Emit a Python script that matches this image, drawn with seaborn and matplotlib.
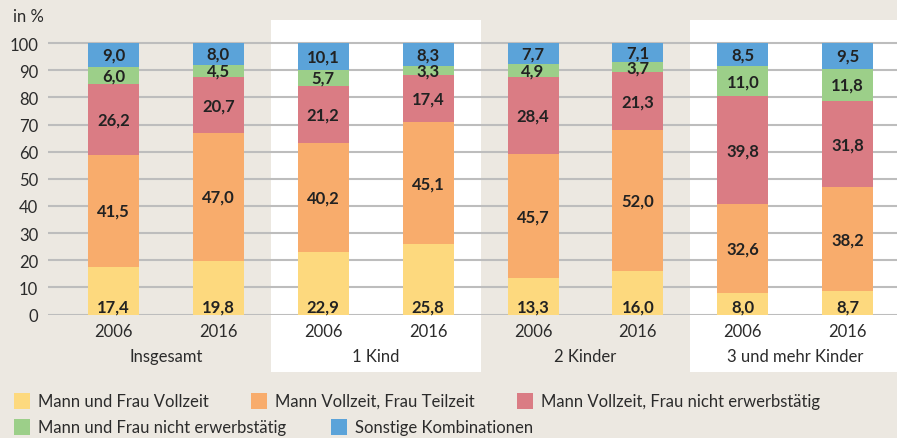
import numpy as np
import pandas as pd
import seaborn as sns
import matplotlib.pyplot as plt
from matplotlib.patches import Rectangle
import matplotlib.transforms as mtransforms

# data (percent)
years = ["2006", "2016", "2006", "2016", "2006", "2016", "2006", "2016"]
groups = ["Insgesamt", "1 Kind", "2 Kinder", "3 und mehr Kinder"]
categories = ["Mann und Frau Vollzeit", "Mann Vollzeit, Frau Teilzeit",
              "Mann Vollzeit, Frau nicht erwerbstätig",
              "Mann und Frau nicht erwerbstätig", "Sonstige Kombinationen"]
beide_vollzeit = [17.4, 19.8, 22.9, 25.8, 13.3, 16.0, 8.0, 8.7]
frau_teilzeit = [41.5, 47.0, 40.2, 45.1, 45.7, 52.0, 32.6, 38.2]
frau_nicht_erw = [26.2, 20.7, 21.2, 17.4, 28.4, 21.3, 39.8, 31.8]
beide_nicht_erw = [6.0, 4.5, 5.7, 3.3, 4.9, 3.7, 11.0, 11.8]
sonstige = [9.0, 8.0, 10.1, 8.3, 7.7, 7.1, 8.5, 9.5]

colors = ["#fdd97e", "#f8ac6c", "#da7c84", "#9ccf89", "#5ba3d9"]
bg = "#ece8e1"
txt = "#2b2b2b"

series = [beide_vollzeit, frau_teilzeit, frau_nicht_erw, beide_nicht_erw, sonstige]
rows = []
for cat, vals in zip(categories, series):
    for i, v in enumerate(vals):
        rows.append({"pos": i, "cat": cat, "val": v})
df = pd.DataFrame(rows)

sns.set_theme(style="white")
plt.rcParams["font.family"] = ["Lato", "DejaVu Sans"]

fig = plt.figure(figsize=(8.97, 4.39), dpi=100, facecolor=bg)
ax = fig.add_axes([48 / 897, 1 - 315.5 / 439, (897 - 48) / 897, (315.5 - 21) / 439])
ax.set_facecolor("none")

# white background bands behind "1 Kind" and "3 und mehr Kinder"
trans = mtransforms.blended_transform_factory(ax.transData, ax.transAxes)
for x0 in [1.5, 5.5]:
    ax.add_patch(Rectangle((x0, -0.194), 2.0, 1.194, transform=trans,
                           facecolor="white", edgecolor="none", zorder=0.1,
                           clip_on=False))

# stacked bars (last hue level ends up at the bottom)
sns.histplot(data=df, x="pos", weights="val", hue="cat",
             hue_order=categories[::-1], multiple="stack", discrete=True,
             shrink=0.486, palette=dict(zip(categories, colors)),
             linewidth=0, alpha=1, legend=False, ax=ax, zorder=2)

ax.set_xlim(-0.624, 7.47)
ax.set_ylim(0, 108.5)
ax.set_yticks(range(0, 101, 10))
ax.set_xticks(range(8))
ax.set_xticklabels(years)
ax.set_xlabel("")
ax.set_ylabel("")
ax.set_axisbelow(True)
ax.yaxis.grid(True, color="#bdbdbd", linewidth=1.5)
ax.xaxis.grid(False)
for s in ax.spines.values():
    s.set_visible(False)
ax.tick_params(axis="both", length=0, labelsize=12, colors=txt)
ax.tick_params(axis="y", pad=7)
ax.tick_params(axis="x", pad=6)

# value labels
for i in range(8):
    base = 0
    for k, vals in enumerate(series):
        v = vals[i]
        y = 3.1 if k == 0 else base + v / 2
        ax.text(i, y, f"{v:.1f}".replace(".", ","), ha="center", va="center",
                fontsize=12, fontweight="bold", color="#222222", zorder=3)
        base += v

# group labels
for g, name in enumerate(groups):
    ax.text(2 * g + 0.5, -0.141, name, transform=trans, ha="center",
            va="center", fontsize=12, color=txt)

fig.text(13 / 897, 1 - 17 / 439, "in %", ha="left", va="center",
         fontsize=12, color=txt)

# legend
legend_items = [(14, 402, 0), (251, 402, 1), (517, 402, 2), (14, 428, 3), (331, 428, 4)]
for px, py, k in legend_items:
    fig.patches.append(Rectangle((px / 897, 1 - (py + 8) / 439), 16 / 897, 16 / 439,
                                 transform=fig.transFigure, facecolor=colors[k],
                                 edgecolor="none"))
    fig.text((px + 24) / 897, 1 - py / 439, categories[k], ha="left",
             va="center", fontsize=12, color=txt)

fig.savefig("out.png", dpi=100, facecolor=bg)
